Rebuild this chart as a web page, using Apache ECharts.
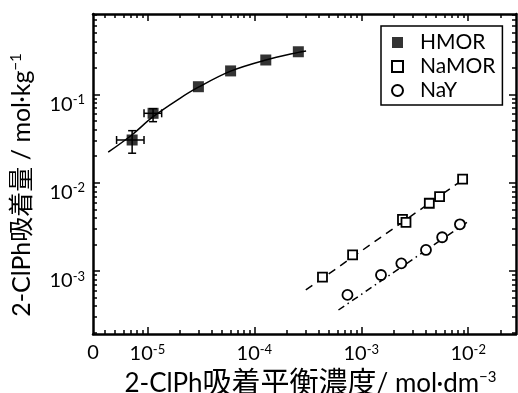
<!DOCTYPE html>
<html>
<head>
<meta charset="utf-8">
<script src="https://cdn.jsdelivr.net/npm/echarts@6/dist/echarts.min.js"></script>
<style>
  html, body { margin: 0; padding: 0; background: #fff; }
  #chart { width: 518px; height: 393px; }
</style>
</head>
<body>
<div id="chart"></div>
<script>
// HMOR (filled squares) and its fitted curve
var hmorX = [7.2e-6, 1.13e-5, 3.0e-5, 6.0e-5, 1.28e-4, 2.58e-4];
var hmorY = [0.0305, 0.0612, 0.1225, 0.185, 0.246, 0.305];
// error bars only on the first two points: [x, y, xlo, xhi, ylo, yhi]
var hmorErr = [
    [7.2e-6, 0.0305, 5.15e-6, 9.3e-6, 0.0216, 0.0389],
    [1.13e-5, 0.0612, 9.3e-6, 1.36e-5, 0.0492, 0.069]
];
var hmorFitX = [4.3e-6, 7.2e-6, 1.13e-5, 2.0e-5, 3.0e-5, 6.0e-5, 1.28e-4, 2.58e-4, 3.05e-4];
var hmorFitY = [0.0222, 0.035, 0.056, 0.09, 0.121, 0.184, 0.246, 0.300, 0.311];

// NaMOR (open squares)
var namorX = [4.34e-4, 8.3e-4, 2.43e-3, 2.62e-3, 4.33e-3, 5.4e-3, 8.87e-3];
var namorY = [8.5e-4, 1.52e-3, 3.85e-3, 3.56e-3, 5.85e-3, 6.95e-3, 0.0110];
var namorFitX = [3.03e-4, 8.9e-3];
var namorFitY = [6.09e-4, 0.0108];

// NaY (open circles)
var nayX = [7.43e-4, 1.53e-3, 2.37e-3, 4.03e-3, 5.71e-3, 8.37e-3];
var nayY = [5.35e-4, 9.0e-4, 1.22e-3, 1.73e-3, 2.41e-3, 3.38e-3];
var nayFitX = [6.12e-4, 9.95e-3];
var nayFitY = [3.61e-4, 3.62e-3];

// axes
var xMin = 3.1e-6, xMax = 0.028;
var yMin = 1.93e-4, yMax = 0.817;
var xMajor = [1e-5, 1e-4, 1e-3, 1e-2];
var yMajor = [1e-3, 1e-2, 1e-1];

function minorTicks(lo, hi) {
    var out = [];
    for (var e = -7; e <= 0; e++) {
        for (var k = 2; k <= 9; k++) {
            var v = k * Math.pow(10, e);
            if (v >= lo && v <= hi) out.push(v);
        }
    }
    return out;
}

function zip(a, b) {
    return a.map(function (v, j) { return [v, b[j]]; });
}

var FONT = 'Lato, "Noto Sans CJK JP", sans-serif';
var tickRich = {
    b: { fontSize: 20, fontFamily: FONT, color: '#000' },
    s: { fontSize: 13, fontFamily: FONT, color: '#000', padding: [0, 0, 9, 0] }
};
function powLabel(v) {
    if (v < 5e-6) return '{b|0}';
    return '{b|10}{s|' + Math.round(Math.log10(v)) + '}';
}

function xAxisDef(pos, major, labels) {
    return {
        type: 'log', logBase: 10, position: pos, min: xMin, max: xMax,
        axisLine: { show: major, onZero: false, lineStyle: { color: '#000', width: 2.5 } },
        axisTick: {
            show: true, inside: true, length: major ? 7 : 4,
            customValues: major ? xMajor : minorTicks(xMin, xMax),
            lineStyle: { color: '#000', width: 1.5 }
        },
        axisLabel: labels ? {
            show: true, margin: 9, customValues: [xMin].concat(xMajor),
            formatter: powLabel, rich: tickRich
        } : { show: false },
        splitLine: { show: false }
    };
}
function yAxisDef(pos, major, labels) {
    return {
        type: 'log', logBase: 10, position: pos, min: yMin, max: yMax,
        axisLine: { show: major, onZero: false, lineStyle: { color: '#000', width: 2.5 } },
        axisTick: {
            show: true, inside: true, length: major ? 7 : 4,
            customValues: major ? yMajor : minorTicks(yMin, yMax),
            lineStyle: { color: '#000', width: 1.5 }
        },
        axisLabel: labels ? {
            show: true, margin: 8, customValues: yMajor, verticalAlign: 'top',
            padding: [-1, 0, 0, 0],
            formatter: powLabel, rich: tickRich
        } : { show: false },
        splitLine: { show: false }
    };
}

var xAx = [xAxisDef('bottom', true, true), xAxisDef('bottom', false, false),
           xAxisDef('top', true, false), xAxisDef('top', false, false)];
xAx[0].name = '{a|2-ClPh}{j|吸着平衡濃度}{a|/ mol·dm}{s|−3}';
xAx[0].nameLocation = 'middle';
xAx[0].nameGap = 32;
xAx[0].nameTextStyle = {
    color: '#000', padding: [0, 0, 0, 12],
    rich: {
        a: { fontSize: 26, fontFamily: FONT, color: '#000' },
        j: { fontSize: 29, fontFamily: FONT, color: '#000' },
        s: { fontSize: 15, fontFamily: FONT, color: '#000', padding: [0, 0, 13, 0] }
    }
};

var yAx = [yAxisDef('left', true, true), yAxisDef('left', false, false),
           yAxisDef('right', true, false), yAxisDef('right', false, false)];
yAx[0].name = '{a|2-ClPh}{j|吸着量}{a| / mol·kg}{s|−1}';
yAx[0].nameLocation = 'middle';
yAx[0].nameGap = 58;
yAx[0].nameTextStyle = {
    color: '#000', padding: [0, 0, 0, -22],
    rich: {
        a: { fontSize: 25, fontFamily: FONT, color: '#000' },
        j: { fontSize: 25, fontFamily: FONT, color: '#000' },
        s: { fontSize: 15, fontFamily: FONT, color: '#000', padding: [0, 0, 11, 0] }
    }
};

var chart = echarts.init(document.getElementById('chart'), null, { renderer: 'canvas' });

var option = {
    backgroundColor: '#fff',
    animation: false,
    grid: { left: 93, top: 14, width: 423, height: 320, outerBoundsMode: 'none' },
    legend: {
        data: ['HMOR', 'NaMOR', 'NaY'],
        orient: 'vertical', left: 381, top: 26,
        padding: [6, 7, 4, 10],
        borderColor: '#000', borderWidth: 1.5,
        itemWidth: 11, itemHeight: 11, itemGap: 3,
        textStyle: { fontSize: 21, fontFamily: FONT, color: '#000', padding: [0, 0, 0, 12] }
    },
    xAxis: xAx,
    yAxis: yAx,
    series: [
        {
            type: 'line', name: 'HMOR fit', data: zip(hmorFitX, hmorFitY),
            smooth: 0.35, showSymbol: false, symbol: 'none', silent: true, z: 2,
            lineStyle: { color: '#000', width: 1.5 }
        },
        {
            type: 'line', name: 'NaMOR fit', data: zip(namorFitX, namorFitY),
            showSymbol: false, symbol: 'none', silent: true, z: 2,
            lineStyle: { color: '#000', width: 1.5, type: [8, 6] }
        },
        {
            type: 'line', name: 'NaY fit', data: zip(nayFitX, nayFitY),
            showSymbol: false, symbol: 'none', silent: true, z: 2,
            lineStyle: { color: '#000', width: 1.5, type: [7, 4, 1.5, 4] }
        },
        {
            type: 'custom', name: 'HMOR err', data: hmorErr, z: 3, silent: true,
            encode: { x: 0, y: 1 },
            renderItem: function (params, api) {
                var x = api.value(0), y = api.value(1);
                var l = api.coord([api.value(2), y]);
                var r = api.coord([api.value(3), y]);
                var b = api.coord([x, api.value(4)]);
                var t = api.coord([x, api.value(5)]);
                var st = { stroke: '#000', lineWidth: 1.5, fill: null };
                var c = 4;
                return {
                    type: 'group',
                    children: [
                        { type: 'line', shape: { x1: l[0], y1: l[1], x2: r[0], y2: r[1] }, style: st },
                        { type: 'line', shape: { x1: l[0], y1: l[1] - c, x2: l[0], y2: l[1] + c }, style: st },
                        { type: 'line', shape: { x1: r[0], y1: r[1] - c, x2: r[0], y2: r[1] + c }, style: st },
                        { type: 'line', shape: { x1: b[0], y1: b[1], x2: t[0], y2: t[1] }, style: st },
                        { type: 'line', shape: { x1: b[0] - c, y1: b[1], x2: b[0] + c, y2: b[1] }, style: st },
                        { type: 'line', shape: { x1: t[0] - c, y1: t[1], x2: t[0] + c, y2: t[1] }, style: st }
                    ]
                };
            }
        },
        {
            type: 'scatter', name: 'HMOR', data: zip(hmorX, hmorY), z: 4,
            symbol: 'rect', symbolSize: 11,
            itemStyle: { color: '#000', borderColor: '#000', borderWidth: 0 }
        },
        {
            type: 'scatter', name: 'NaMOR', data: zip(namorX, namorY), z: 4,
            symbol: 'rect', symbolSize: 9,
            itemStyle: { color: '#fff', borderColor: '#000', borderWidth: 1.8, opacity: 1 }
        },
        {
            type: 'scatter', name: 'NaY', data: zip(nayX, nayY), z: 4,
            symbol: 'circle', symbolSize: 10,
            itemStyle: { color: '#fff', borderColor: '#000', borderWidth: 1.8, opacity: 1 }
        }
    ]
};

chart.setOption(option);
</script>
</body>
</html>
